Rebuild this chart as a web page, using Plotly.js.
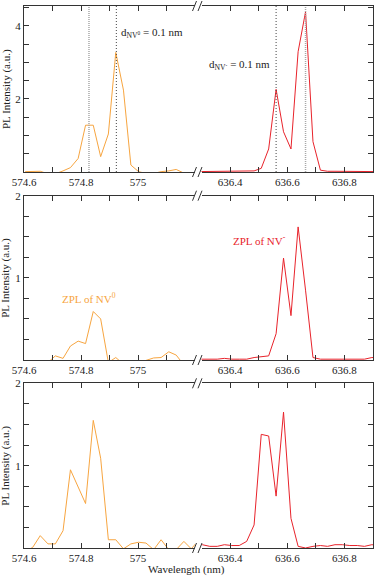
<!DOCTYPE html>
<html><head><meta charset="utf-8">
<script src="https://cdn.plot.ly/plotly-3.0.1.min.js"></script>
<style>html,body{margin:0;padding:0;background:#fff}#chart{width:374px;height:576px}</style>
</head><body><div id="chart"></div>
<script>
// Wavelength samples (nm)
const waveNV0 = [574.604, 574.631, 574.657, 574.684, 574.710, 574.737, 574.763, 574.790, 574.816, 574.843, 574.869, 574.896, 574.922, 574.949, 574.975, 575.002, 575.028, 575.055, 575.081, 575.108, 575.134, 575.161, 575.187, 575.214];
const waveNVm = [636.277, 636.303, 636.329, 636.355, 636.380, 636.406, 636.432, 636.458, 636.484, 636.509, 636.535, 636.561, 636.587, 636.613, 636.638, 636.664, 636.690, 636.716, 636.741, 636.767, 636.793, 636.819, 636.845, 636.870, 636.896, 636.922];

// PL intensity (a.u.) – top, middle, bottom panels
const nv0Top = [0.01, 0.01, 0.02, -0.05, -0.05, 0.03, 0.12, 0.37, 1.28, 1.28, 0.42, 1.04, 3.27, 2.24, 0.19, 0.01, -0.04, -0.04, 0.01, 0.03, 0.07, -0.03, -0.05, -0.05];
const nvmTop = [0.01, 0.01, 0.01, 0.02, 0.02, 0.03, 0.03, 0.02, 0.03, 0.10, 0.63, 2.26, 1.10, 0.63, 3.29, 4.38, 0.83, 0.05, 0.02, 0.02, 0.02, 0.02, 0.01, 0.01, 0.02, 0.01];

const nv0Mid = [-0.05, -0.05, -0.05, -0.03, 0.05, 0.02, 0.17, 0.23, 0.20, 0.59, 0.50, -0.03, 0.03, -0.05, -0.05, -0.05, -0.005, 0.025, 0.03, 0.10, 0.06, -0.06, -0.05, -0.05];
const nvmMid = [0.01, 0.01, 0.01, 0.01, 0.02, 0.01, 0.01, 0.01, 0.03, 0.04, 0.05, 0.32, 1.24, 0.54, 1.62, 0.85, 0.03, 0.01, 0.01, 0.01, 0.01, 0.01, 0.01, 0.01, 0.03, 0.03];

const nv0Bot = [-0.05, 0.01, 0.15, 0.05, 0.05, 0.21, 0.95, 0.75, 0.54, 1.55, 1.09, 0.10, 0.10, -0.01, 0.05, 0.07, 0.06, -0.02, 0.10, -0.02, -0.02, 0.08, -0.01, 0.10];
const nvmBot = [0.04, 0.04, 0.02, 0.02, 0.04, 0.03, 0.03, 0.08, 0.28, 1.38, 1.36, 0.63, 1.65, 0.36, 0.02, 0.00, 0.02, 0.03, 0.02, 0.04, 0.04, 0.03, 0.03, 0.02, 0.04, 0.03];

// Peak markers (dotted lines, top panel)
const nv0Peaks = [574.828, 574.924];
const nvmPeaks = [636.561, 636.664];

// Axis ranges and ticks
const xLeftRange = [574.6, 575.2];
const xRightRange = [636.3, 636.9];
const xLeftMajor = [574.6, 574.8, 575.0];
const xLeftLabels = ['574.6', '574.8', '575'];
const xLeftMinor = [574.7, 574.9, 575.1];
const xRightMajor = [636.4, 636.6, 636.8];
const xRightLabels = ['636.4', '636.6', '636.8'];
const xRightMinor = [636.5, 636.7];
const yTopMajor = [2, 4];
const yTopLabels = ['2', '4'];
const yTopMinor = [0.5, 1, 1.5, 2.5, 3, 3.5, 4.5];
const yLowMajor = [1, 2];
const yLowLabels = ['1', '2'];
const yLowMinor = [0.25, 0.5, 0.75, 1.25, 1.5, 1.75];
const yTopRange = [0, 4.54];
const yLowRange = [0, 2];

const ORANGE = '#f7a540', RED = '#e8232b', INK = '#222', AX = '#333';
const FONT = '"Liberation Serif", "Times New Roman", serif';

// pixel helpers for layout geometry
const W = 374, H = 576, ML = 24, MR = 1, MT = 6, MB = 28;
const PW = W - ML - MR, PH = H - MT - MB;
const px2x = p => (p - ML) / PW;
const py2y = p => (H - MB - p) / PH;

const xDomL = [0, px2x(195)];
const xDomR = [px2x(201.5), 1];
const panels = [
  {top: 6, bot: 172},
  {top: 195.7, bot: 360},
  {top: 383.3, bot: 548}
];

const minorOf = tv => ({tickmode: 'array', tickvals: tv, ticks: 'inside', ticklen: 5, tickcolor: AX, tickwidth: 1, showgrid: false});

function xax(domain, range, tv, tt, mv, anchor) {
  return {domain, range, anchor, tickmode: 'array', tickvals: tv, ticktext: tt, minor: minorOf(mv),
    showline: true, linecolor: AX, linewidth: 1,
    mirror: 'ticks', ticks: 'inside', ticklen: 5, tickcolor: AX, tickwidth: 1, showgrid: false, zeroline: false,
    tickfont: {family: FONT, size: 11, color: INK}, fixedrange: true};
}
function yax(domain, range, tv, tt, mv, anchor, side, labels) {
  return {domain, range, anchor, side, tickmode: 'array', tickvals: tv, ticktext: tt, minor: minorOf(mv),
    showline: true, linecolor: AX, linewidth: 1,
    mirror: false, ticks: 'inside', ticklen: 5, tickcolor: AX, tickwidth: 1, showgrid: false, zeroline: false,
    showticklabels: labels, tickfont: {family: FONT, size: 11, color: INK}, fixedrange: true};
}

const layout = {
  width: W, height: H, margin: {l: ML, r: MR, t: MT, b: MB},
  paper_bgcolor: '#fff', plot_bgcolor: '#fff', showlegend: false,
  font: {family: FONT, size: 11, color: INK},
  shapes: [], annotations: []
};

const yRanges = [yTopRange, yLowRange, yLowRange];
const yMaj = [yTopMajor, yLowMajor, yLowMajor];
const yLab = [yTopLabels, yLowLabels, yLowLabels];
const yMin = [yTopMinor, yLowMinor, yLowMinor];

panels.forEach((p, i) => {
  const yd = [py2y(p.bot), py2y(p.top)];
  const a = 2 * i + 1, b = 2 * i + 2;
  const sa = a === 1 ? '' : String(a), sb = String(b);
  layout['xaxis' + sa] = xax(xDomL, xLeftRange, xLeftMajor, xLeftLabels, xLeftMinor, 'y' + sa);
  layout['xaxis' + sb] = xax(xDomR, xRightRange, xRightMajor, xRightLabels, xRightMinor, 'y' + sb);
  layout['yaxis' + sa] = yax(yd, yRanges[i], yMaj[i], yLab[i], yMin[i], 'x' + sa, 'left', true);
  layout['yaxis' + sb] = yax(yd, yRanges[i], yMaj[i], yLab[i], yMin[i], 'x' + sb, 'right', false);
  // axis break marks
  [p.top, p.bot].forEach(yy => {
    [[192.5, 196.5], [198, 202]].forEach(([x0, x1]) => {
      layout.shapes.push({type: 'line', xref: 'paper', yref: 'paper',
        x0: px2x(x0), x1: px2x(x1), y0: py2y(yy + 5), y1: py2y(yy - 5),
        line: {color: AX, width: 1}});
    });
  });
  // y title
  layout.annotations.push({text: 'PL Intensity (a.u.)', xref: 'paper', yref: 'paper',
    x: px2x(6), y: (yd[0] + yd[1]) / 2, textangle: -90, showarrow: false,
    xanchor: 'center', yanchor: 'middle', font: {family: FONT, size: 11, color: INK}});
});

// dotted peak markers: light gray (dense) and dark gray (fine)
const lightDot = {color: '#a8a8a8', width: 1.5, dash: '1px,1px'};
const darkDot = {color: '#444444', width: 1, dash: '1px,2px'};
nv0Peaks.forEach((v, k) => layout.shapes.push({type: 'line', xref: 'x', yref: 'y domain', x0: v, x1: v, y0: 0, y1: 1,
  line: k === 0 ? lightDot : darkDot}));
nvmPeaks.forEach((v, k) => layout.shapes.push({type: 'line', xref: 'x2', yref: 'y2 domain', x0: v, x1: v, y0: 0, y1: 1,
  line: k === 0 ? darkDot : lightDot}));

layout.annotations.push(
  {text: 'd<sub>NV<sup>0</sup></sub> = 0.1 nm', xref: 'x', yref: 'y', x: 574.934, y: 3.8, xanchor: 'left', yanchor: 'middle',
   showarrow: false, font: {family: FONT, size: 11, color: INK}},
  {text: 'd<sub>NV<sup>-</sup></sub> = 0.1 nm', xref: 'x2', yref: 'y2', x: 636.545, y: 2.92, xanchor: 'right', yanchor: 'middle',
   showarrow: false, font: {family: FONT, size: 11, color: INK}},
  {text: 'ZPL of NV<sup>0</sup>', xref: 'x3', yref: 'y3', x: 574.727, y: 0.76, xanchor: 'left', yanchor: 'middle',
   showarrow: false, font: {family: FONT, size: 11, color: ORANGE}},
  {text: 'ZPL of NV<sup>-</sup>', xref: 'x4', yref: 'y4', x: 636.403, y: 1.46, xanchor: 'left', yanchor: 'middle',
   showarrow: false, font: {family: FONT, size: 11, color: RED}},
  {text: 'Wavelength (nm)', xref: 'paper', yref: 'paper', x: px2x(186), y: py2y(569.5), xanchor: 'center', yanchor: 'middle',
   showarrow: false, font: {family: FONT, size: 11, color: INK}}
);

const line = (x, y, xa, ya, color) => ({x, y, xaxis: xa, yaxis: ya, type: 'scatter', mode: 'lines',
  line: {color, width: 1}, hoverinfo: 'skip'});

const data = [
  line(waveNV0, nv0Top, 'x', 'y', ORANGE),
  line(waveNVm, nvmTop, 'x2', 'y2', RED),
  line(waveNV0, nv0Mid, 'x3', 'y3', ORANGE),
  line(waveNVm, nvmMid, 'x4', 'y4', RED),
  line(waveNV0, nv0Bot, 'x5', 'y5', ORANGE),
  line(waveNVm, nvmBot, 'x6', 'y6', RED)
];

Plotly.newPlot('chart', data, layout, {staticPlot: true, displayModeBar: false});
</script></body></html>
